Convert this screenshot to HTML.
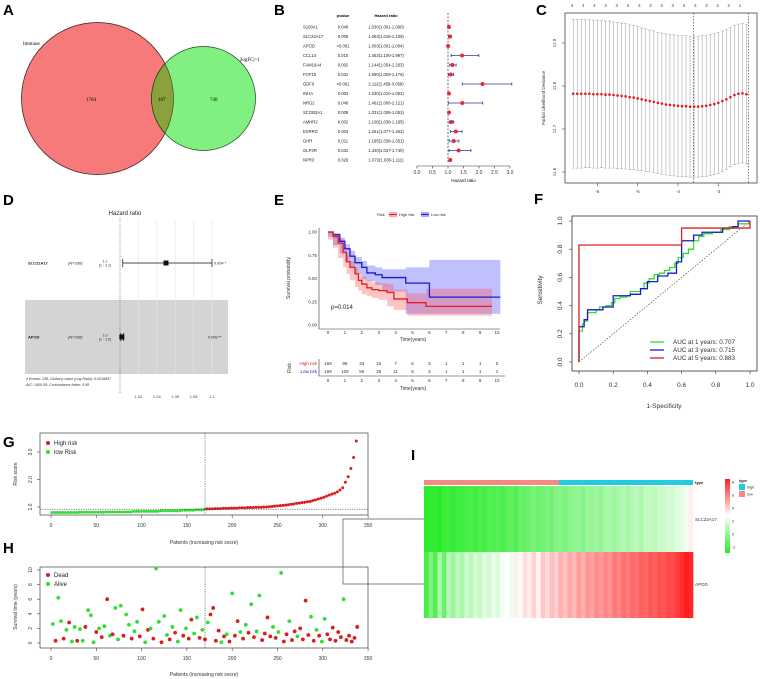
<!DOCTYPE html>
<html><head><meta charset="utf-8"><style>
html,body{margin:0;padding:0;background:#fff;}
svg{display:block;font-family:"Liberation Sans",Arial,sans-serif;}
.pl{font-weight:bold;font-size:15px;}
</style></head><body>
<svg id="fig" width="760" height="679" viewBox="0 0 760 679">
<!-- Panel labels -->
<text class="pl" x="3" y="15">A</text>
<text class="pl" x="274" y="15">B</text>
<text class="pl" x="536" y="15">C</text>
<text class="pl" x="3" y="205">D</text>
<text class="pl" x="274" y="205">E</text>
<text class="pl" x="534" y="204">F</text>
<text class="pl" x="3" y="447">G</text>
<text class="pl" x="3" y="553">H</text>
<text class="pl" x="411" y="460">I</text>

<!-- A venn -->
<g>
<circle cx="97.5" cy="98.5" r="76" fill="#f67a7a" stroke="#5a2a2a" stroke-width="0.7"/>
<circle cx="203.5" cy="98.5" r="52" fill="#80f080" stroke="#1a4a1a" stroke-width="0.7"/>
<clipPath id="clipRed"><circle cx="97.5" cy="98.5" r="76"/></clipPath>
<circle cx="203.5" cy="98.5" r="52" fill="#8aa23c" stroke="#1a3a1a" stroke-width="0.7" clip-path="url(#clipRed)"/>
<circle cx="97.5" cy="98.5" r="76" fill="none" stroke="#4a2a2a" stroke-width="0.6"/>
<text x="23" y="45" font-size="5" font-family="Liberation Serif">Immune</text>
<text x="240" y="61" font-size="5" font-family="Liberation Serif">|logFC|&gt;1</text>
<text x="86" y="101" font-size="5" font-family="Liberation Serif">1704</text>
<text x="158" y="101" font-size="5" font-family="Liberation Serif">107</text>
<text x="210" y="101" font-size="5" font-family="Liberation Serif">740</text>
</g>

<g id="pB"></g>
<g id="pC"></g>
<g id="pD"></g>
<g id="pE"></g>
<g id="pF"></g>
<g id="pG"></g>
<g id="pH"></g>
<g id="pI"></g>
</svg>
<script>
// ---------- data ----------
const bGenes = ["S100A1","SLC22A17","APOD","CCL14","FAM19A4","FGF10","GDF6","INHA","NRG2","SCGB3A1","AMHR2","ESRRG","GHR","GLP2R","NPR3"];
const bPvals = ["0.040","0.005","<0.001","0.010","0.002","0.031","<0.001","0.004","0.046","0.008","0.002","0.003","0.011","0.031","0.026"];
const bHR = [1.030,1.063,1.003,1.453,1.144,1.090,2.112,1.030,1.461,1.031,1.108,1.251,1.185,1.340,1.073];
const bLow = [1.001,1.018,1.001,1.100,1.054,1.009,1.459,1.010,1.008,1.008,1.038,1.077,1.038,1.037,1.038];
const bHigh = [1.060,1.109,1.004,1.997,1.263,1.176,3.058,1.052,2.121,1.053,1.185,1.453,1.351,1.740,1.111];
const bTicks = [0,0.5,1,1.5,2,2.5,3];

const cLambda = [-6.6,-6.5,-6.4,-6.3,-6.2,-6.1,-6.0,-5.9,-5.8,-5.7,-5.6,-5.5,-5.4,-5.3,-5.2,-5.1,-5.0,-4.9,-4.8,-4.7,-4.6,-4.5,-4.4,-4.3,-4.2,-4.1,-4.0,-3.9,-3.8,-3.7,-3.6,-3.5,-3.4,-3.3,-3.2,-3.1,-3.0,-2.9,-2.8,-2.7,-2.6,-2.5,-2.4,-2.3];
const cMean = [11.782,11.782,11.782,11.782,11.782,11.781,11.781,11.781,11.780,11.780,11.779,11.778,11.777,11.776,11.774,11.773,11.771,11.769,11.767,11.765,11.763,11.761,11.759,11.757,11.756,11.755,11.754,11.753,11.753,11.752,11.752,11.752,11.753,11.754,11.756,11.758,11.761,11.765,11.769,11.774,11.779,11.782,11.783,11.781];
const cSD = [0.173,0.173,0.173,0.172,0.172,0.172,0.172,0.171,0.171,0.171,0.170,0.170,0.169,0.169,0.168,0.168,0.167,0.166,0.166,0.165,0.165,0.164,0.164,0.164,0.164,0.164,0.164,0.164,0.164,0.164,0.164,0.164,0.164,0.164,0.164,0.164,0.164,0.163,0.163,0.162,0.162,0.162,0.162,0.162];
const cTop = ["4","4","4","4","3","3","3","3","3","3","3","3","3","2","2","1"];
const cXTicks = [-6,-5,-4,-3];
const cYTicks = [11.6,11.7,11.8,11.9];
const cVlines = [-3.62,-2.25];

const dGenes = ["SLC22A17","APOD"];
const dN = ["(N=338)","(N=338)"];
const dHR = [1.05,1.002];
const dLow = [1.003,1.001];
const dHigh = [1.1,1.004];
const dP = ["0.004 *","0.009 **"];
const dTicks = [1.02,1.04,1.06,1.08,1.1];

const eHighT = [0,0.3,0.6,0.9,1.1,1.3,1.6,1.8,2.0,2.3,2.6,3.0,3.5,3.9,4.7,5.8,9.7];
const eHighS = [1,0.95,0.88,0.78,0.68,0.62,0.55,0.48,0.44,0.40,0.38,0.37,0.35,0.28,0.24,0.20,0.20];
const eHighLo = [1,0.92,0.83,0.72,0.62,0.55,0.48,0.41,0.37,0.33,0.31,0.29,0.27,0.20,0.16,0.10,0.10];
const eHighHi = [1,0.98,0.93,0.84,0.75,0.69,0.62,0.56,0.52,0.48,0.46,0.45,0.44,0.38,0.34,0.39,0.39];
const eLowT = [0,0.3,0.7,1.0,1.3,1.6,2.0,2.3,2.8,3.2,4.6,6.0,10.2];
const eLowS = [1,0.97,0.90,0.82,0.74,0.67,0.62,0.56,0.54,0.51,0.45,0.30,0.30];
const eLowLo = [1,0.95,0.86,0.77,0.68,0.61,0.55,0.49,0.47,0.43,0.36,0.12,0.12];
const eLowHi = [1,0.99,0.94,0.87,0.80,0.73,0.69,0.64,0.62,0.60,0.62,0.70,0.70];
const eRiskHigh = [169,99,33,15,7,6,3,1,1,1,0];
const eRiskLow = [169,109,56,26,11,5,3,1,1,1,1];
const eYTicks = [0,0.25,0.5,0.75,1];
const eXTicks = [0,1,2,3,4,5,6,7,8,9,10];

const fFpr1 = [0,0,0.02,0.03,0.05,0.10,0.12,0.16,0.19,0.21,0.24,0.28,0.30,0.36,0.38,0.41,0.44,0.47,0.50,0.53,0.56,0.58,0.61,0.64,0.67,0.70,0.73,0.78,0.83,0.88,0.93,1];
const fTpr1 = [0,0.22,0.27,0.29,0.35,0.37,0.39,0.40,0.42,0.45,0.46,0.47,0.50,0.52,0.56,0.59,0.62,0.63,0.65,0.67,0.70,0.74,0.77,0.80,0.86,0.89,0.91,0.92,0.94,0.96,0.98,1];
const fFpr3 = [0,0,0.03,0.05,0.12,0.14,0.19,0.20,0.28,0.30,0.35,0.36,0.39,0.40,0.45,0.46,0.50,0.52,0.56,0.57,0.60,0.60,0.65,0.67,0.70,0.72,0.82,0.84,0.90,0.93,1];
const fTpr3 = [0,0.25,0.30,0.37,0.37,0.39,0.39,0.47,0.47,0.48,0.48,0.52,0.52,0.57,0.57,0.61,0.61,0.63,0.63,0.71,0.71,0.86,0.86,0.90,0.90,0.92,0.92,0.95,0.96,1,1];
const fFpr5 = [0,0,0.6,0.6,1,1];
const fTpr5 = [0,0.83,0.83,0.95,0.95,1];
const fTicks = [0,0.2,0.4,0.6,0.8,1];
const fLegend = ["AUC at 1 years: 0.707","AUC at 3 years: 0.715","AUC at 5 years: 0.883"];

const gPat = [1,4,7,10,13,16,19,22,25,28,31,34,37,40,43,46,49,52,55,58,61,64,67,70,73,76,79,82,85,88,91,94,97,100,103,106,109,112,115,118,121,124,127,130,133,136,139,142,145,148,151,154,157,160,163,166,169,172,175,178,181,184,187,190,193,196,199,202,205,208,211,214,217,220,223,226,229,232,235,238,241,244,247,250,253,256,259,262,265,268,271,274,277,280,283,286,289,292,295,298,301,304,307,310,313,316,319,322,325,328,331,334,337];
const gRisk = [0.80,0.80,0.80,0.80,0.80,0.80,0.80,0.80,0.80,0.80,0.81,0.81,0.81,0.81,0.81,0.81,0.81,0.81,0.81,0.81,0.82,0.82,0.82,0.82,0.82,0.82,0.82,0.82,0.82,0.82,0.84,0.84,0.84,0.84,0.84,0.84,0.84,0.84,0.84,0.84,0.86,0.86,0.86,0.86,0.86,0.86,0.86,0.86,0.88,0.88,0.88,0.88,0.88,0.90,0.90,0.90,0.91,
0.93,0.93,0.93,0.94,0.94,0.94,0.95,0.95,0.95,0.96,0.96,0.96,0.97,0.97,0.97,0.98,0.98,0.98,0.99,0.99,0.99,1.00,1.00,1.01,1.02,1.03,1.04,1.05,1.06,1.07,1.08,1.10,1.11,1.13,1.14,1.16,1.17,1.19,1.20,1.23,1.26,1.29,1.32,1.35,1.39,1.43,1.47,1.50,1.55,1.62,1.70,1.90,2.10,2.40,2.80,3.40];
const gCut = 170;
const gXTicks = [0,50,100,150,200,250,300,350];
const gYTicks = [1,2,3];

const hPat = [2,5,8,11,14,17,20,23,26,29,32,35,38,41,44,47,50,53,56,59,62,65,68,71,74,77,80,83,86,89,92,95,98,101,104,107,110,113,116,119,122,125,128,131,134,137,140,143,146,149,152,155,158,161,164,167,170,173,176,179,182,185,188,191,194,197,200,203,206,209,212,215,218,221,224,227,230,233,236,239,242,245,248,251,254,257,260,263,266,269,272,275,278,281,284,287,290,293,296,299,302,305,308,311,314,317,320,323,326,329,332,335,338];
const hTime = [2.6,0.3,6.2,3.0,0.6,1.8,2.8,0.2,2.2,0.3,1.9,0.3,2.2,4.5,3.8,0.1,1.5,2.0,0.8,2.3,6.0,1.0,1.2,4.8,0.5,5.1,1.0,3.9,2.5,0.6,1.6,2.9,0.9,4.6,0.1,1.8,2.0,0.6,10.2,2.9,0.1,3.7,1.1,0.5,2.2,1.4,0.2,4.5,1.0,2.0,0.6,3.2,1.3,3.5,0.7,1.8,0.5,2.8,3.9,4.8,0.3,1.7,0.1,0.9,1.2,0.2,6.8,1.0,3.0,1.5,0.6,2.5,1.4,5.3,0.8,1.6,6.5,0.4,1.3,3.5,0.9,2.2,0.7,1.5,9.6,0.2,1.2,3.0,0.4,1.6,0.9,2.0,0.5,5.8,1.1,3.6,0.3,1.8,1.0,0.2,3.3,1.2,0.5,2.1,0.3,1.5,0.8,6.0,0.4,1.0,0.2,0.7,2.2];
const hDead = [0,1,0,0,1,0,1,0,0,1,0,0,1,0,0,0,1,0,1,0,1,0,1,0,0,0,1,0,0,1,0,0,1,1,0,1,0,1,0,0,1,0,0,1,0,1,0,0,1,0,1,1,0,0,1,0,1,0,1,1,1,1,0,1,0,1,0,1,1,0,1,0,1,0,1,0,0,1,1,1,1,0,1,0,0,1,1,0,1,1,0,1,1,1,1,0,1,0,1,0,0,1,1,1,1,1,1,0,1,1,1,1,1];
const hXTicks = [0,50,100,150,200,250,300,350];
const hYTicks = [0,2,4,6,8,10];

const iSLC = [-2.4,-2.3,-2.2,-2.4,-2.1,-2.0,-2.2,-1.9,-2.0,-1.8,-1.7,-1.9,-1.6,-1.8,-1.5,-1.6,-1.4,-1.7,-1.3,-1.2,-1.5,-1.0,-1.1,-0.9,-0.6,-1.0,-0.8,-0.5,-0.7,-0.4,-0.3,-0.6,-0.2,-0.1,0.0,-0.3,0.2,0.1,0.3,0.0,0.4,0.5,0.2,0.6,0.7,0.4,0.8,0.9,0.6,1.0,1.1,0.9,1.3,1.2,1.5,1.4,1.7,1.9,2.2,2.9];
const iAPOD = [-1.8,-0.5,-1.5,0.5,-1.0,0.8,0.2,1.0,0.5,1.4,0.9,1.6,1.2,1.8,1.5,2.0,1.7,2.3,2.5,2.1,2.9,2.6,3.3,3.0,3.6,2.8,3.9,3.4,4.1,3.7,4.4,4.0,4.6,4.2,4.9,4.5,5.1,4.8,5.3,5.0,5.5,5.2,5.8,5.5,6.0,5.7,6.2,6.0,6.4,6.2,6.6,6.4,6.8,6.6,7.0,6.9,7.3,7.6,8.0,7.8];
const iLegendTicks = [8,6,4,2,0,-2];

// ---------- helpers ----------
const NS = "http://www.w3.org/2000/svg";
function mk(parent, tag, attrs, txt){
  const e = document.createElementNS(NS, tag);
  for (const k in attrs) e.setAttribute(k, attrs[k]);
  if (txt !== undefined) e.textContent = txt;
  parent.appendChild(e);
  return e;
}
function stepPath(xs, ys, sx, sy){
  let d = "M" + sx(xs[0]) + "," + sy(ys[0]);
  for (let i = 1; i < xs.length; i++) d += "H" + sx(xs[i]) + "V" + sy(ys[i]);
  return d;
}

// ---------- B ----------
(function(){
  const g = document.getElementById("pB");
  const sx = v => 417 + v * 31;
  const rowY = i => 27 + i * 9.5;
  let t;
  t = mk(g, "text", {x:343, y:17, "font-size":4, "text-anchor":"middle", "font-weight":"bold"}, "pvalue");
  
  
  t = mk(g, "text", {x:386, y:17, "font-size":4, "text-anchor":"middle", "font-weight":"bold"}, "Hazard ratio");
  
  
  const ref = mk(g, "line", {x1:sx(1), x2:sx(1), y1:13, y2:163, stroke:"#333", "stroke-width":0.7, "stroke-dasharray":"2,1.5"});
  
  
  bGenes.forEach((gn, i) => {
    const y = rowY(i);
    const a = mk(g, "text", {x:303, y:y + 1.5, "font-size":4.2, fill:"#222"}, gn);
    
    
    const p = mk(g, "text", {x:343, y:y + 1.5, "font-size":4.2, "text-anchor":"middle", fill:"#222"}, bPvals[i]);
    
    
    const h = mk(g, "text", {x:386, y:y + 1.5, "font-size":4.2, "text-anchor":"middle", fill:"#222"}, bHR[i].toFixed(3) + "(" + bLow[i].toFixed(3) + "-" + bHigh[i].toFixed(3) + ")");
    
    
    const ci = mk(g, "path", {d:"M" + sx(bLow[i]) + "," + (y - 1.5) + "v3M" + sx(bLow[i]) + "," + y + "H" + sx(bHigh[i]) + "M" + sx(bHigh[i]) + "," + (y - 1.5) + "v3", stroke:"#2b3aa8", "stroke-width":0.8, fill:"none"});
    
    
    const pt = mk(g, "circle", {cx:sx(bHR[i]), cy:y, r:2, fill:"#e8283a"});
    
    
  });
  const ax = mk(g, "line", {x1:sx(0), x2:sx(3), y1:166, y2:166, stroke:"#333", "stroke-width":0.6});
  
  
  bTicks.forEach(v => {
    const tk = mk(g, "line", {x1:sx(v), x2:sx(v), y1:166, y2:168.5, stroke:"#333", "stroke-width":0.6});
    
    
    const tl = mk(g, "text", {x:sx(v), y:174, "font-size":5, "text-anchor":"middle", fill:"#333"}, v.toFixed(1));
    
    
  });
  t = mk(g, "text", {x:sx(1.5), y:182, "font-size":4.5, "text-anchor":"middle"}, "Hazard ratio");
  
  
})();

// ---------- C ----------
(function(){
  const g = document.getElementById("pC");
  const sx = v => 678 + (v + 4) * 40.3;
  const sy = v => 86 - (v - 11.8) * 430;
  const box = mk(g, "rect", {x:565, y:13, width:192, height:170, fill:"none", stroke:"#444", "stroke-width":0.8});
  
  
  cLambda.forEach((l, i) => {
    const x = sx(l);
    const eb = mk(g, "path", {d:"M" + (x - 1.5) + "," + sy(cMean[i] + cSD[i]) + "h3M" + x + "," + sy(cMean[i] + cSD[i]) + "V" + sy(cMean[i] - cSD[i]) + "M" + (x - 1.5) + "," + sy(cMean[i] - cSD[i]) + "h3", stroke:"#aaa", "stroke-width":0.6, fill:"none"});
    
    
  });
  cLambda.forEach((l, i) => {
    const p = mk(g, "circle", {cx:sx(l), cy:sy(cMean[i]), r:1.3, fill:"#e41a1c"});
    
    
  });
  cVlines.forEach(v => {
    const l = mk(g, "line", {x1:sx(v), x2:sx(v), y1:13, y2:183, stroke:"#333", "stroke-width":0.6, "stroke-dasharray":"1.5,1.5"});
    
    
  });
  cTop.forEach((s, i) => {
    const t = mk(g, "text", {x:572 + i * 11.2, y:7, "font-size":4.5, "text-anchor":"middle", fill:"#444"}, s);
    
    
  });
  cXTicks.forEach(v => {
    const tk = mk(g, "line", {x1:sx(v), x2:sx(v), y1:183, y2:186, stroke:"#444", "stroke-width":0.6});
    
    
    const t = mk(g, "text", {x:sx(v), y:193, "font-size":4.5, "text-anchor":"middle", fill:"#444"}, String(v));
    
    
  });
  cYTicks.forEach(v => {
    const tk = mk(g, "line", {x1:562, x2:565, y1:sy(v), y2:sy(v), stroke:"#444", "stroke-width":0.6});
    
    
    const t = mk(g, "text", {x:556, y:sy(v), "font-size":4.5, "text-anchor":"middle", fill:"#444", transform:"rotate(-90 556 " + sy(v) + ")"}, v.toFixed(1));
    
    
  });
  const yt = mk(g, "text", {x:545, y:98, "font-size":4.5, "text-anchor":"middle", fill:"#333", transform:"rotate(-90 545 98)"}, "Partial Likelihood Deviance");
  
  
})();

// ---------- D ----------
(function(){
  const g = document.getElementById("pD");
  const sx = v => 120 + (v - 1) * 920;
  let t = mk(g, "text", {x:125, y:215, "font-size":6, "text-anchor":"middle", fill:"#222"}, "Hazard ratio");
  
  
  const band = mk(g, "rect", {x:25, y:300, width:203, height:74, fill:"#d4d4d4"});
  
  
  dTicks.forEach(v => {
    const l = mk(g, "line", {x1:sx(v), x2:sx(v), y1:220, y2:374, stroke:"#e6e6e6", "stroke-width":0.6});
    
    
    const tl = mk(g, "text", {x:sx(v), y:398, "font-size":4, "text-anchor":"middle", fill:"#444"}, String(v));
    
    
  });
  const ref = mk(g, "line", {x1:sx(1), x2:sx(1), y1:218, y2:394, stroke:"#555", "stroke-width":0.6, "stroke-dasharray":"1,1"});
  
  
  const rows = [263, 337];
  dGenes.forEach((gn, i) => {
    const y = rows[i];
    let a = mk(g, "text", {x:28, y:y + 1.5, "font-size":4, "font-weight":"bold", fill:"#222"}, gn);
    
    
    a = mk(g, "text", {x:68, y:y + 1.5, "font-size":4, "font-style":"italic", fill:"#222"}, dN[i]);
    
    
    a = mk(g, "text", {x:105, y:y - 0.5, "font-size":3.5, "text-anchor":"middle", fill:"#222"}, dHR[i].toFixed(1));
    
    
    a = mk(g, "text", {x:105, y:y + 3.5, "font-size":3.5, "text-anchor":"middle", fill:"#222"}, "(1 - " + dHigh[i].toFixed(1) + ")");
    
    
    const ci = mk(g, "path", {d:"M" + sx(dLow[i]) + "," + (y - 4) + "v8M" + sx(dLow[i]) + "," + y + "H" + sx(dHigh[i]) + "M" + sx(dHigh[i]) + "," + (y - 4) + "v8", stroke:"#111", "stroke-width":0.7, fill:"none"});
    
    
    const sq = mk(g, "rect", {x:sx(dHR[i]) - 2.5, y:y - 2.5, width:5, height:5, fill:"#111"});
    
    
    a = mk(g, "text", {x:i === 0 ? 214 : 208, y:y + 1.5, "font-size":3.8, "font-style":"italic", fill:"#222"}, dP[i]);
    
    
  });
  t = mk(g, "text", {x:26, y:380, "font-size":3.6, "font-style":"italic", fill:"#333"}, "# Events: 138; Global p-value (Log-Rank): 0.0016897");
  
  
  t = mk(g, "text", {x:26, y:386, "font-size":3.6, "font-style":"italic", fill:"#333"}, "AIC: 1400.05; Concordance Index: 0.58");
  
  
})();

// ---------- E ----------
(function(){
  const g = document.getElementById("pE");
  const sx = v => 328 + v * 16.9;
  const sy = v => 325 - v * 93;
  function band(T, lo, hi, col, name){
    let d = "M" + sx(T[0]) + "," + sy(hi[0]);
    for (let i = 1; i < T.length; i++) d += "H" + sx(T[i]) + "V" + sy(hi[i]);
    for (let i = T.length - 1; i > 0; i--) d += "V" + sy(lo[i]) + "H" + sx(T[i - 1]);
    d += "V" + sy(lo[0]) + "Z";
    const p = mk(g, "path", {d:d, fill:col, "fill-opacity":0.32, stroke:"none"});
    
    
  }
  band(eLowT, eLowLo, eLowHi, "#3a3aff", "low-risk-ci-band");
  band(eHighT, eHighLo, eHighHi, "#ff4a4a", "high-risk-ci-band");
  const lowL = mk(g, "path", {d:stepPath(eLowT, eLowS, sx, sy), stroke:"#1a1acc", "stroke-width":1.3, fill:"none"});
  
  
  const highL = mk(g, "path", {d:stepPath(eHighT, eHighS, sx, sy), stroke:"#e02020", "stroke-width":1.3, fill:"none"});
  
  
  const ax = mk(g, "path", {d:"M319,228V329H500", stroke:"#333", "stroke-width":0.6, fill:"none"});
  
  
  eYTicks.forEach(v => {
    const t = mk(g, "text", {x:317, y:sy(v) + 1.5, "font-size":4.5, "text-anchor":"end", fill:"#333"}, v.toFixed(2));
    
    
  });
  eXTicks.forEach(v => {
    const t = mk(g, "text", {x:sx(v), y:334, "font-size":4.5, "text-anchor":"middle", fill:"#333"}, String(v));
    
    
    const a = mk(g, "text", {x:sx(v), y:365, "font-size":4.5, "text-anchor":"middle", fill:"#333"}, String(eRiskHigh[v]));
    
    
    const b = mk(g, "text", {x:sx(v), y:373, "font-size":4.5, "text-anchor":"middle", fill:"#333"}, String(eRiskLow[v]));
    
    
    const c = mk(g, "text", {x:sx(v), y:382, "font-size":4.5, "text-anchor":"middle", fill:"#333"}, String(v));
    
    
  });
  let t = mk(g, "text", {x:413, y:341, "font-size":5, "text-anchor":"middle", fill:"#333"}, "Time(years)");
  
  
  t = mk(g, "text", {x:413, y:390, "font-size":5, "text-anchor":"middle", fill:"#333"}, "Time(years)");
  
  
  t = mk(g, "text", {x:290, y:278, "font-size":5, "text-anchor":"middle", fill:"#333", transform:"rotate(-90 290 278)"}, "Survival probability");
  
  
  t = mk(g, "text", {x:331, y:309, "font-size":6, fill:"#222"}, "p=0.014");
  
  
  t = mk(g, "text", {x:377, y:216, "font-size":4, fill:"#333"}, "Risk");
  
  
  const lh = mk(g, "rect", {x:389, y:212, width:8, height:5, fill:"#ffaaaa"});
  
  
  mk(g, "line", {x1:389, x2:397, y1:214.5, y2:214.5, stroke:"#e02020", "stroke-width":1});
  t = mk(g, "text", {x:399, y:216, "font-size":4, fill:"#333"}, "High risk");
  
  
  const ll = mk(g, "rect", {x:421, y:212, width:8, height:5, fill:"#aaaaff"});
  
  
  mk(g, "line", {x1:421, x2:429, y1:214.5, y2:214.5, stroke:"#1a1acc", "stroke-width":1});
  t = mk(g, "text", {x:431, y:216, "font-size":4, fill:"#333"}, "Low risk");
  
  
  const tax = mk(g, "path", {d:"M319,359V376H505", stroke:"#333", "stroke-width":0.6, fill:"none"});
  
  
  t = mk(g, "text", {x:317, y:365, "font-size":4.5, "text-anchor":"end", fill:"#e02020"}, "High risk");
  
  
  t = mk(g, "text", {x:317, y:373, "font-size":4.5, "text-anchor":"end", fill:"#1a1acc"}, "Low risk");
  
  
  t = mk(g, "text", {x:291, y:368, "font-size":5, "text-anchor":"middle", fill:"#333", transform:"rotate(-90 291 368)"}, "Risk");
  
  
})();

// ---------- F ----------
(function(){
  const g = document.getElementById("pF");
  const sx = v => 579 + v * 171;
  const sy = v => 362 - v * 141;
  const box = mk(g, "rect", {x:572, y:216, width:185, height:155, fill:"none", stroke:"#333", "stroke-width":0.8});
  
  
  const diag = mk(g, "line", {x1:sx(0), y1:sy(0), x2:sx(1), y2:sy(1), stroke:"#333", "stroke-width":0.6, "stroke-dasharray":"1.5,1.5"});
  
  
  const lines = [[fFpr1, fTpr1, "#33dd33", "roc-1-year"], [fFpr3, fTpr3, "#1a1acc", "roc-3-year"], [fFpr5, fTpr5, "#e02020", "roc-5-year"]];
  lines.forEach(L => {
    const p = mk(g, "path", {d:stepPath(L[0], L[1], sx, sy), stroke:L[2], "stroke-width":1.3, fill:"none"});
    
    
  });
  fTicks.forEach(v => {
    const a = mk(g, "line", {x1:sx(v), x2:sx(v), y1:371, y2:374, stroke:"#333", "stroke-width":0.6});
    
    
    const t = mk(g, "text", {x:sx(v), y:387, "font-size":6.5, "text-anchor":"middle", fill:"#333"}, v.toFixed(1));
    
    
    const b = mk(g, "line", {x1:569, x2:572, y1:sy(v), y2:sy(v), stroke:"#333", "stroke-width":0.6});
    
    
    const y = sy(v);
    const u = mk(g, "text", {x:562, y:y, "font-size":6.5, "text-anchor":"middle", fill:"#333", transform:"rotate(-90 562 " + y + ")"}, v.toFixed(1));
    
    
  });
  let t = mk(g, "text", {x:664, y:408, "font-size":6.5, "text-anchor":"middle", fill:"#333"}, "1-Specificity");
  
  
  t = mk(g, "text", {x:542, y:290, "font-size":6.5, "text-anchor":"middle", fill:"#333", transform:"rotate(-90 542 290)"}, "Sensitivity");
  
  
  const cols = ["#33dd33", "#1a1acc", "#e02020"];
  fLegend.forEach((s, i) => {
    const y = 342 + i * 8;
    const l = mk(g, "line", {x1:650, x2:664, y1:y, y2:y, stroke:cols[i], "stroke-width":1.3});
    
    
    const tx = mk(g, "text", {x:673, y:y + 2.2, "font-size":6.3, fill:"#333"}, s);
    
    
  });
})();

// ---------- G ----------
(function(){
  const g = document.getElementById("pG");
  const sx = v => 51 + v * 0.906;
  const sy = v => 507 - (v - 1) * 27.5;
  const box = mk(g, "rect", {x:40, y:433, width:328, height:82, fill:"none", stroke:"#444", "stroke-width":0.7});
  
  
  gPat.forEach((p, i) => {
    const c = mk(g, "circle", {cx:sx(p), cy:sy(gRisk[i]), r:1.5, fill:p < gCut ? "#33dd33" : "#dd1c1c"});
    
    
  });
  const v = mk(g, "line", {x1:sx(gCut), x2:sx(gCut), y1:433, y2:515, stroke:"#333", "stroke-width":0.6, "stroke-dasharray":"1.2,1.2"});
  
  
  const h = mk(g, "line", {x1:40, x2:368, y1:sy(0.92), y2:sy(0.92), stroke:"#333", "stroke-width":0.6, "stroke-dasharray":"1.2,1.2"});
  
  
  gXTicks.forEach(x => {
    const tk = mk(g, "line", {x1:sx(x), x2:sx(x), y1:515, y2:518, stroke:"#444", "stroke-width":0.6});
    
    
    const t = mk(g, "text", {x:sx(x), y:527, "font-size":5, "text-anchor":"middle", fill:"#333"}, String(x));
    
    
  });
  gYTicks.forEach(y => {
    const tk = mk(g, "line", {x1:37, x2:40, y1:sy(y), y2:sy(y), stroke:"#444", "stroke-width":0.6});
    
    
    const yy = sy(y);
    const t = mk(g, "text", {x:32, y:yy, "font-size":5, "text-anchor":"middle", fill:"#333", transform:"rotate(-90 32 " + yy + ")"}, y.toFixed(1));
    
    
  });
  let t = mk(g, "text", {x:204, y:544, "font-size":5, "text-anchor":"middle", fill:"#333"}, "Patients (increasing risk socre)");
  
  
  t = mk(g, "text", {x:17, y:474, "font-size":5, "text-anchor":"middle", fill:"#333", transform:"rotate(-90 17 474)"}, "Risk score");
  
  
  [["High risk", "#dd1c1c", 443], ["low Risk", "#33dd33", 452]].forEach(L => {
    const c = mk(g, "circle", {cx:48, cy:L[2], r:2, fill:L[1]});
    
    
    const tx = mk(g, "text", {x:54, y:L[2] + 2, "font-size":6, fill:"#222"}, L[0]);
    
    
  });
})();

// ---------- H ----------
(function(){
  const g = document.getElementById("pH");
  const sx = v => 51 + v * 0.906;
  const sy = v => 643 - v * 7.3;
  const box = mk(g, "rect", {x:40, y:567, width:328, height:81, fill:"none", stroke:"#444", "stroke-width":0.7});
  
  
  hPat.forEach((p, i) => {
    const c = mk(g, "circle", {cx:sx(p), cy:sy(hTime[i]), r:1.9, fill:hDead[i] ? "#dd1c1c" : "#33dd33"});
    
    
  });
  const v = mk(g, "line", {x1:sx(gCut), x2:sx(gCut), y1:567, y2:648, stroke:"#333", "stroke-width":0.6, "stroke-dasharray":"1.2,1.2"});
  
  
  hXTicks.forEach(x => {
    const tk = mk(g, "line", {x1:sx(x), x2:sx(x), y1:648, y2:651, stroke:"#444", "stroke-width":0.6});
    
    
    const t = mk(g, "text", {x:sx(x), y:660, "font-size":5, "text-anchor":"middle", fill:"#333"}, String(x));
    
    
  });
  hYTicks.forEach(y => {
    const tk = mk(g, "line", {x1:37, x2:40, y1:sy(y), y2:sy(y), stroke:"#444", "stroke-width":0.6});
    
    
    const yy = sy(y);
    const t = mk(g, "text", {x:32, y:yy, "font-size":5, "text-anchor":"middle", fill:"#333", transform:"rotate(-90 32 " + yy + ")"}, String(y));
    
    
  });
  let t = mk(g, "text", {x:204, y:676, "font-size":5, "text-anchor":"middle", fill:"#333"}, "Patients (increasing risk socre)");
  
  
  t = mk(g, "text", {x:17, y:607, "font-size":5, "text-anchor":"middle", fill:"#333", transform:"rotate(-90 17 607)"}, "Survival time (years)");
  
  
  [["Dead", "#dd1c1c", 575], ["Alive", "#33dd33", 584]].forEach(L => {
    const c = mk(g, "circle", {cx:48, cy:L[2], r:2, fill:L[1]});
    
    
    const tx = mk(g, "text", {x:54, y:L[2] + 2, "font-size":6, fill:"#222"}, L[0]);
    
    
  });
})();

// ---------- I ----------
(function(){
  const g = document.getElementById("pI");
  function col(v){
    let r, gg, b;
    if (v < 2.5){ const t = Math.max(0, Math.min(1, (v + 2.5) / 5)); r = 40 + 215 * t; gg = 235 + 20 * t; b = 40 + 215 * t; }
    else { const t = Math.max(0, Math.min(1, (v - 2.5) / 5.5)); r = 255; gg = 255 - 225 * t; b = 255 - 225 * t; }
    return "rgb(" + Math.round(r) + "," + Math.round(gg) + "," + Math.round(b) + ")";
  }
  const x0 = 424, x1 = 693, w = (x1 - x0) / iSLC.length;
  const tb1 = mk(g, "rect", {x:x0, y:480, width:135, height:5, fill:"#f28b82"});
  
  
  const tb2 = mk(g, "rect", {x:559, y:480, width:134, height:5, fill:"#22ccdd"});
  
  
  iSLC.forEach((v, i) => {
    const c = mk(g, "rect", {x:x0 + i * w, y:486, width:w + 0.3, height:66, fill:col(v)});
    
    
  });
  iAPOD.forEach((v, i) => {
    const c = mk(g, "rect", {x:x0 + i * w, y:552, width:w + 0.3, height:66, fill:col(v)});
    
    
  });
  const dend = mk(g, "path", {d:"M424,519H343V584H424", stroke:"#555", "stroke-width":0.7, fill:"none"});
  
  
  let t = mk(g, "text", {x:695, y:484, "font-size":4, "font-weight":"bold", fill:"#222"}, "type");
  
  
  t = mk(g, "text", {x:695, y:521, "font-size":4.5, fill:"#333"}, "SLC22A17");
  
  
  t = mk(g, "text", {x:695, y:586, "font-size":4.5, fill:"#333"}, "APOD");
  
  
  const defs = mk(g, "defs", {});
  const lg = mk(defs, "linearGradient", {id:"cbar", x1:0, y1:1, x2:0, y2:0});
  [[-2.5,0],[2.5,0.5],[8.5,1]].forEach(s => mk(lg, "stop", {offset:s[1], "stop-color":col(s[0])}));
  const cb = mk(g, "rect", {x:725, y:479, width:5, height:74, fill:"url(#cbar)"});
  
  
  iLegendTicks.forEach(v => {
    const y = 553 - (v + 2.9) / 11.4 * 74;
    const tx = mk(g, "text", {x:732, y:y + 1.3, "font-size":3.8, fill:"#333"}, String(v));
    
    
  });
  t = mk(g, "text", {x:739, y:482, "font-size":3.8, "font-weight":"bold", fill:"#222"}, "type");
  
  
  [["high", "#22ccdd", 484], ["low", "#f28b82", 491]].forEach(L => {
    const r = mk(g, "rect", {x:739, y:L[2], width:6, height:6, fill:L[1]});
    
    
    const tx = mk(g, "text", {x:747, y:L[2] + 4.5, "font-size":3.8, fill:"#333"}, L[0]);
    
    
  });
})();
</script>
</body></html>
